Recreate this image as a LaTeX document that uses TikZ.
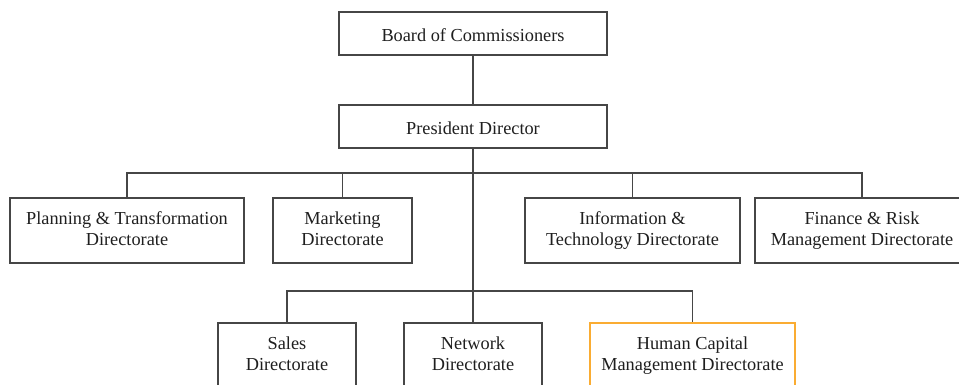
\documentclass[tikz,border=0pt]{standalone}
\usepackage{fontspec}
\setmainfont{Liberation Serif}
\definecolor{linegray}{RGB}{70,70,70}
\definecolor{hcorange}{RGB}{250,172,50}
% fixed line height and depth so every box centres its text alike
\newcommand\unitstrut{\rule[-4.5pt]{0pt}{25.5pt}}
\begin{document}
\begin{tikzpicture}[x=1pt,y=-1pt,
  unit/.style={draw=linegray,line width=1.1pt,rectangle,align=center,
    inner sep=0pt,text=black!88,
    font=\fontsize{18.3}{21}\selectfont,
    execute at begin node=\unitstrut,execute at end node=\unitstrut},
  top/.style={unit,minimum width=268pt,minimum height=43pt},
  dir/.style={unit,minimum height=65pt},
  link/.style={draw=linegray,line width=1.1pt}]
\useasboundingbox (0,0) rectangle (959,385);
\clip (0,0) rectangle (959,385);
\fill[white] (0,0) rectangle (959,385);

% board and president
\node[top] (board) at (473,33.5) {Board of Commissioners};
\node[top] (pres)  at (473,126.5) {President Director};

% directorates reporting on the upper bus
\node[dir,minimum width=234pt] (plan) at (127,230.5) {Planning \& Transformation\\Directorate};
\node[dir,minimum width=139pt] (mkt)  at (342.5,230.5) {Marketing\\Directorate};
\node[dir,minimum width=215pt] (info) at (632.5,230.5) {Information \&\\Technology Directorate};
\node[dir,minimum width=214pt] (fin)  at (862,230.5) {Finance \& Risk\\Management Directorate};

% directorates reporting on the lower bus
\node[dir,minimum width=138pt] (sales) at (287,355.5) {Sales\\Directorate};
\node[dir,minimum width=138pt] (net)   at (473,355.5) {Network\\Directorate};
\node[dir,minimum width=205pt,draw=hcorange] (hcm) at (692.5,355.5) {Human Capital\\Management Directorate};

% connectors
\coordinate (busA) at (473,173);
\coordinate (busB) at (473,291);
\draw[link] (board.south) -- (pres.north);
\draw[link] (pres.south) -- (net.north);
\draw[link] (plan.north) |- (busA) -| (fin.north);
\draw[link] (mkt.north) -- (mkt.north |- busA);
\draw[link] (info.north) -- (info.north |- busA);
\draw[link] (sales.north) |- (busB) -| (hcm.north);
\end{tikzpicture}
\end{document}
